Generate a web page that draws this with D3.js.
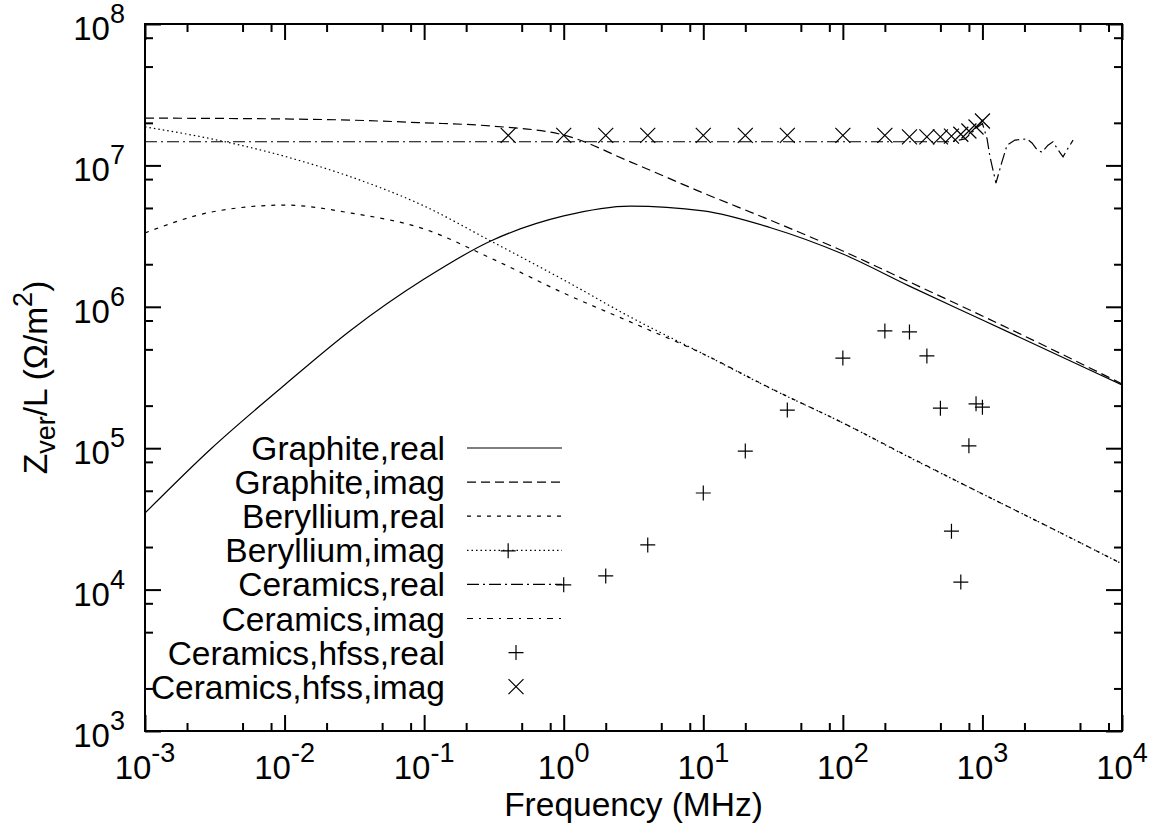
<!DOCTYPE html>
<html>
<head>
<meta charset="utf-8">
<script src="https://cdn.jsdelivr.net/npm/d3@7"></script>
<style>
  body { margin: 0; background: #fff; }
  text { font-family: "Liberation Sans", Arial, Helvetica, sans-serif; fill: #000; }
</style>
</head>
<body>
<svg id="chart" width="1159" height="839"></svg>
<script>
// frequencies in MHz, impedance in Ohm/m^2
const freqGrid = [0.001, 0.003, 0.01, 0.03, 0.1, 0.3, 1, 3, 10, 30, 100, 300, 1000, 3000, 10000];
const graphiteReal = [3.48e4, 1.0e5, 2.80e5, 6.86e5, 1.57e6, 2.92e6, 4.39e6, 5.16e6, 4.77e6, 3.64e6, 2.36e6, 1.40e6, 8.07e5, 4.87e5, 2.80e5];
const graphiteImag = [2.16e7, 2.15e7, 2.13e7, 2.09e7, 2.0e7, 1.90e7, 1.64e7, 1.06e7, 6.38e6, 4.11e6, 2.48e6, 1.50e6, 8.61e5, 5.12e5, 2.85e5];
const berylliumReal = [3.33e6, 4.68e6, 5.24e6, 4.60e6, 3.55e6, 2.21e6, 1.25e6, 7.82e5, 4.64e5, 2.67e5, 1.51e5, 8.67e4, 4.75e4, 2.77e4, 1.52e4];
const berylliumImag = [1.87e7, 1.54e7, 1.16e7, 8.28e6, 5.16e6, 2.92e6, 1.55e6, 8.47e5, 4.64e5, 2.66e5, 1.51e5, 8.6e4, 4.75e4, 2.77e4, 1.52e4];

const ceramicsFreq = [0.001, 0.01, 0.1, 1, 10, 100, 300, 600, 750, 915, 1000, 1080, 1133, 1250, 1380, 1500, 1710, 2085, 2265, 2460, 2670, 2950, 3200, 3480, 3780, 4040, 4460];
const ceramicsReal = [1.47e7, 1.47e7, 1.47e7, 1.47e7, 1.47e7, 1.47e7, 1.47e7, 1.47e7, 1.54e7, 1.85e7, 1.98e7, 1.54e7, 1.15e7, 7.5e6, 1.06e7, 1.39e7, 1.51e7, 1.54e7, 1.44e7, 1.29e7, 1.24e7, 1.39e7, 1.47e7, 1.29e7, 1.15e7, 1.29e7, 1.51e7];
const ceramicsImag = []; // not visible on the log axis

const hfssFreq = [0.4, 1, 2, 4, 10, 20, 40, 100, 200, 300, 400, 500, 600, 700, 800, 900, 1000];
const hfssReal = [1.88e4, 1.08e4, 1.25e4, 2.07e4, 4.82e4, 9.55e4, 1.86e5, 4.34e5, 6.75e5, 6.64e5, 4.49e5, 1.92e5, 2.59e4, 1.13e4, 1.04e5, 2.06e5, 1.95e5];
const hfssImag = [1.63e7, 1.63e7, 1.63e7, 1.63e7, 1.63e7, 1.63e7, 1.63e7, 1.63e7, 1.63e7, 1.59e7, 1.59e7, 1.59e7, 1.61e7, 1.66e7, 1.75e7, 1.87e7, 2.06e7];

const xMajor = [-3, -2, -1, 0, 1, 2, 3, 4];
const yMajor = [3, 4, 5, 6, 7, 8];
const minorSteps = [2, 5, 8];

const MARGIN = { left: 145, top: 24, right: 37, bottom: 108 };
const W = 1159, H = 839;
const innerW = W - MARGIN.left - MARGIN.right;
const innerH = H - MARGIN.top - MARGIN.bottom;
const FONT = "33px", SUP = "27px";

const svg = d3.select("#chart");
const g = svg.append("g").attr("transform", `translate(${MARGIN.left},${MARGIN.top})`);

const x = d3.scaleLog().domain([1e-3, 1e4]).range([0, innerW]);
const y = d3.scaleLog().domain([1e3, 1e8]).range([innerH, 0]);

const minorX = xMajor.slice(0, -1).flatMap(e => minorSteps.map(m => m * 10 ** e));
const minorY = yMajor.slice(0, -1).flatMap(e => minorSteps.map(m => m * 10 ** e));

//// ticks, pointing inward on all four sides
function tickAxis(axis, values, size, transform) {
  g.append("g")
    .attr("transform", transform)
    .call(axis.tickValues(values).tickSizeInner(size).tickSizeOuter(0).tickFormat(""))
    .call(s => s.select(".domain").remove())
    .call(s => s.selectAll("line").attr("stroke", "#000").attr("stroke-width", 2));
}
const xMajVals = xMajor.map(e => 10 ** e);
const yMajVals = yMajor.map(e => 10 ** e);
tickAxis(d3.axisBottom(x), xMajVals, -16, `translate(0,${innerH})`);
tickAxis(d3.axisBottom(x), minorX, -8, `translate(0,${innerH})`);
tickAxis(d3.axisTop(x), xMajVals, -16, "translate(0,0)");
tickAxis(d3.axisTop(x), minorX, -8, "translate(0,0)");
tickAxis(d3.axisLeft(y), yMajVals, -16, "translate(0,0)");
tickAxis(d3.axisLeft(y), minorY, -8, "translate(0,0)");
tickAxis(d3.axisRight(y), yMajVals, -16, `translate(${innerW},0)`);
tickAxis(d3.axisRight(y), minorY, -8, `translate(${innerW},0)`);

//// tick labels 10^n
const xLabels = g.append("g").selectAll("text")
  .data(xMajor)
  .enter()
  .append("text")
  .attr("x", d => x(10 ** d))
  .attr("y", innerH + 48)
  .attr("text-anchor", "middle")
  .style("font-size", FONT);
xLabels.append("tspan").text("10");
xLabels.append("tspan").attr("dy", -17).style("font-size", SUP).text(d => d);

const yLabels = g.append("g").selectAll("text")
  .data(yMajor)
  .enter()
  .append("text")
  .attr("x", -20)
  .attr("y", d => y(10 ** d) + 16)
  .attr("text-anchor", "end")
  .style("font-size", FONT);
yLabels.append("tspan").text("10");
yLabels.append("tspan").attr("dy", -17).style("font-size", SUP).text(d => d);

//// axis titles
svg.append("text")
  .attr("x", MARGIN.left + innerW / 2)
  .attr("y", 816)
  .attr("text-anchor", "middle")
  .style("font-size", "33.5px")
  .text("Frequency (MHz)");

const yTitle = svg.append("text")
  .attr("transform", `translate(47,${MARGIN.top + innerH / 2}) rotate(-90)`)
  .attr("text-anchor", "middle")
  .style("font-size", "33.5px");
yTitle.append("tspan").text("Z");
yTitle.append("tspan").attr("dy", 8).style("font-size", SUP).text("ver");
yTitle.append("tspan").attr("dy", -8).text("/L (Ω/m");
yTitle.append("tspan").attr("dy", -15).style("font-size", SUP).text("2");
yTitle.append("tspan").attr("dy", 15).text(")");

//// curves
const series = [
  { name: "Graphite,real", f: freqGrid, z: graphiteReal, dash: null, curve: d3.curveMonotoneX },
  { name: "Graphite,imag", f: freqGrid, z: graphiteImag, dash: "9,5", curve: d3.curveMonotoneX },
  { name: "Beryllium,real", f: freqGrid, z: berylliumReal, dash: "4,6", curve: d3.curveMonotoneX },
  { name: "Beryllium,imag", f: freqGrid, z: berylliumImag, dash: "1.5,3", curve: d3.curveMonotoneX },
  { name: "Ceramics,real", f: ceramicsFreq, z: ceramicsReal, dash: "12,4,2,4", curve: d3.curveLinear },
  { name: "Ceramics,imag", f: ceramicsFreq, z: ceramicsImag, dash: "6,6,2,6", curve: d3.curveLinear }
];

svg.append("defs").append("clipPath").attr("id", "plotClip")
  .append("rect").attr("width", innerW).attr("height", innerH);

const plot = g.append("g").attr("clip-path", "url(#plotClip)");

series.forEach(s => {
  const pts = s.z.map((v, i) => [s.f[i], v]);
  const line = d3.line()
    .x(d => x(d[0]))
    .y(d => y(d[1]))
    .curve(s.curve);
  if (pts.length) {
    plot.append("path")
      .attr("d", line(pts))
      .attr("fill", "none")
      .attr("stroke", "#000")
      .attr("stroke-width", 1.2)
      .attr("stroke-dasharray", s.dash);
  }
});

const plusPath = r => `M${-r},0H${r}M0,${-r}V${r}`;
const crossPath = r => `M${-r},${-r}L${r},${r}M${-r},${r}L${r},${-r}`;

plot.selectAll(".hreal")
  .data(hfssFreq.map((f, i) => [f, hfssReal[i]]))
  .enter()
  .append("path")
  .attr("class", "hreal")
  .attr("transform", d => `translate(${x(d[0])},${y(d[1])})`)
  .attr("d", plusPath(7.5))
  .attr("stroke", "#000")
  .attr("stroke-width", 1.2);

plot.selectAll(".himag")
  .data(hfssFreq.map((f, i) => [f, hfssImag[i]]))
  .enter()
  .append("path")
  .attr("class", "himag")
  .attr("transform", d => `translate(${x(d[0])},${y(d[1])})`)
  .attr("d", crossPath(7.5))
  .attr("stroke", "#000")
  .attr("stroke-width", 1.2);

//// legend
const keys = series.map(s => ({ name: s.name, dash: s.dash, type: "line" }))
  .concat([{ name: "Ceramics,hfss,real", type: "plus" }, { name: "Ceramics,hfss,imag", type: "cross" }]);

const legend = svg.append("g");
keys.forEach((k, i) => {
  const cy = 448 + i * 34.1;
  legend.append("text")
    .attr("x", 445)
    .attr("y", cy + 12)
    .attr("text-anchor", "end")
    .style("font-size", "33.5px")
    .text(k.name);
  if (k.type === "line") {
    legend.append("line")
      .attr("x1", 467).attr("x2", 562)
      .attr("y1", cy).attr("y2", cy)
      .attr("stroke", "#000")
      .attr("stroke-width", 1.2)
      .attr("stroke-dasharray", k.dash);
  } else {
    legend.append("path")
      .attr("transform", `translate(516,${cy})`)
      .attr("d", k.type === "plus" ? plusPath(7.5) : crossPath(7.5))
      .attr("stroke", "#000")
      .attr("stroke-width", 1.2);
  }
});

//// frame
g.append("rect")
  .attr("width", innerW)
  .attr("height", innerH)
  .attr("fill", "none")
  .attr("stroke", "#000")
  .attr("stroke-width", 2);
</script>
</body>
</html>
